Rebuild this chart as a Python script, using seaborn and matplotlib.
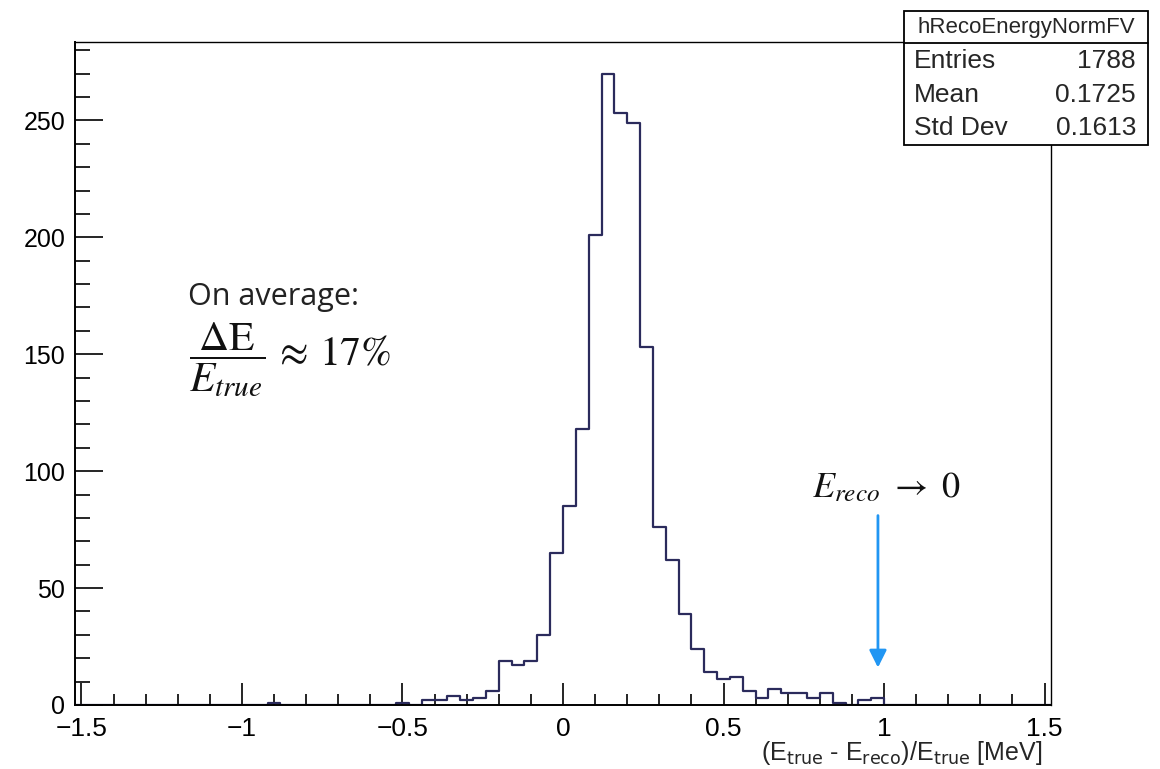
import numpy as np
import pandas as pd
import matplotlib
matplotlib.use("Agg")
import matplotlib.pyplot as plt
import seaborn as sns
from matplotlib.patches import Rectangle
from matplotlib.lines import Line2D
from matplotlib.ticker import MultipleLocator

# ---------------- data ----------------
bin_centers = [-0.90, -0.50, -0.42, -0.38, -0.34, -0.30, -0.26, -0.22,
               -0.18, -0.14, -0.10, -0.06, -0.02,
               0.02, 0.06, 0.10, 0.14, 0.18, 0.22, 0.26,
               0.30, 0.34, 0.38, 0.42, 0.46, 0.50,
               0.54, 0.58, 0.62, 0.66, 0.70, 0.74, 0.78, 0.82, 0.86,
               0.94, 0.98]
counts = [1, 1, 2, 2, 4, 2, 3, 6,
          19, 17, 19, 30, 65,
          85, 118, 201, 270, 253, 249, 153,
          76, 62, 39, 24, 14, 11,
          12, 6, 3, 7, 5, 5, 3, 5, 1,
          2, 3]
x_major_ticks = [-1.5, -1, -0.5, 0, 0.5, 1, 1.5]
x_tick_labels = ["\u22121.5", "\u22121", "\u22120.5", "0", "0.5", "1", "1.5"]
y_major_ticks = [0, 50, 100, 150, 200, 250]
stats_title = "hRecoEnergyNormFV"
stats_names = ["Entries", "Mean", "Std Dev"]
stats_values = ["1788", "0.1725", "0.1613"]

# ---------------- figure ----------------
sns.set_style("white")
plt.rcParams["font.family"] = ["Liberation Sans", "DejaVu Sans"]

W, H = 1160, 769
fig = plt.figure(figsize=(W / 100, H / 100), dpi=100)
ax = fig.add_axes([75 / W, 1 - 705 / H, (1051 - 75) / W, (705 - 42) / H])

edges = [round(v, 2) for v in np.arange(-1.52, 1.5201, 0.04)]
df = pd.DataFrame({"x": bin_centers, "w": counts})
line_color = "#2b2b5c"
sns.histplot(data=df, x="x", weights="w", bins=edges, element="step",
             fill=False, color=line_color, linewidth=1.6, ax=ax)

ax.set_xlim(-1.52, 1.52)
ax.set_ylim(0, 283.5)
ax.set_ylabel("")

ax.set_xticks(x_major_ticks)
ax.set_xticklabels(x_tick_labels)
ax.set_yticks(y_major_ticks)
ax.xaxis.set_minor_locator(MultipleLocator(0.1))
ax.yaxis.set_minor_locator(MultipleLocator(10))

ax.tick_params(axis="x", which="major", direction="in", length=16, width=1.2,
               labelsize=19, pad=9, bottom=True, top=False, colors="black")
ax.tick_params(axis="x", which="minor", direction="in", length=8, width=1.2,
               bottom=True, top=False, colors="black")
ax.tick_params(axis="y", which="major", direction="in", length=20, width=1.2,
               labelsize=18, pad=7, left=True, right=False, colors="black")
ax.tick_params(axis="y", which="minor", direction="in", length=11, width=1.2,
               left=True, right=False, colors="black")
for s in ["left", "bottom"]:
    ax.spines[s].set_linewidth(1.4)
    ax.spines[s].set_color("black")
for s in ["top", "right"]:
    ax.spines[s].set_linewidth(1.0)
    ax.spines[s].set_color("black")

ax.set_xlabel(r"(E$_{\mathrm{true}}$ - E$_{\mathrm{reco}}$)/E$_{\mathrm{true}}$ [MeV]",
              fontsize=18, loc="right", math_fontfamily="dejavusans")
ax.xaxis.set_label_coords(0.991, -0.052)

# ---------------- annotations ----------------
ax.text(-1.168, 181, "On average:", fontsize=22, family="Open Sans",
        color="#222222", ha="left", va="top")
ax.text(-1.165, 147.5, r"$\dfrac{\Delta\mathrm{E}}{E_{true}}\,\approx\,17\%$",
        fontsize=30, math_fontfamily="stix", color="#111111",
        ha="left", va="center")
ax.text(0.776, 93, r"$E_{reco}\ \rightarrow\ 0$", fontsize=26,
        math_fontfamily="stix", color="#111111", ha="left", va="center")
ax.annotate("", xy=(0.981, 16), xytext=(0.981, 81),
            arrowprops=dict(arrowstyle="-|>", color="#2196F3", lw=2,
                            mutation_scale=26, shrinkA=0, shrinkB=0))

# ---------------- stats box ----------------
def fx(px):
    return px / W


def fy(py):
    return 1 - py / H


box_l, box_r, box_t, box_b, box_sep = 904, 1148, 11, 145, 43
fig.add_artist(Rectangle((fx(box_l), fy(box_b)), fx(box_r) - fx(box_l),
                         fy(box_t) - fy(box_b), transform=fig.transFigure,
                         facecolor="white", edgecolor="black", lw=1.3,
                         zorder=5))
fig.add_artist(Line2D([fx(box_l), fx(box_r)], [fy(box_sep), fy(box_sep)],
                      transform=fig.transFigure, color="black", lw=1.3,
                      zorder=6))
fig.text(fx((box_l + box_r) / 2), fy(27), stats_title, fontsize=16,
         ha="center", va="center", zorder=7)
row_y = [61, 95, 128]
for name, val, yy in zip(stats_names, stats_values, row_y):
    fig.text(fx(914), fy(yy), name, fontsize=19, ha="left", va="center",
             zorder=7)
    fig.text(fx(1136), fy(yy), val, fontsize=19, ha="right", va="center",
             zorder=7)

fig.savefig("out.png", dpi=100)
